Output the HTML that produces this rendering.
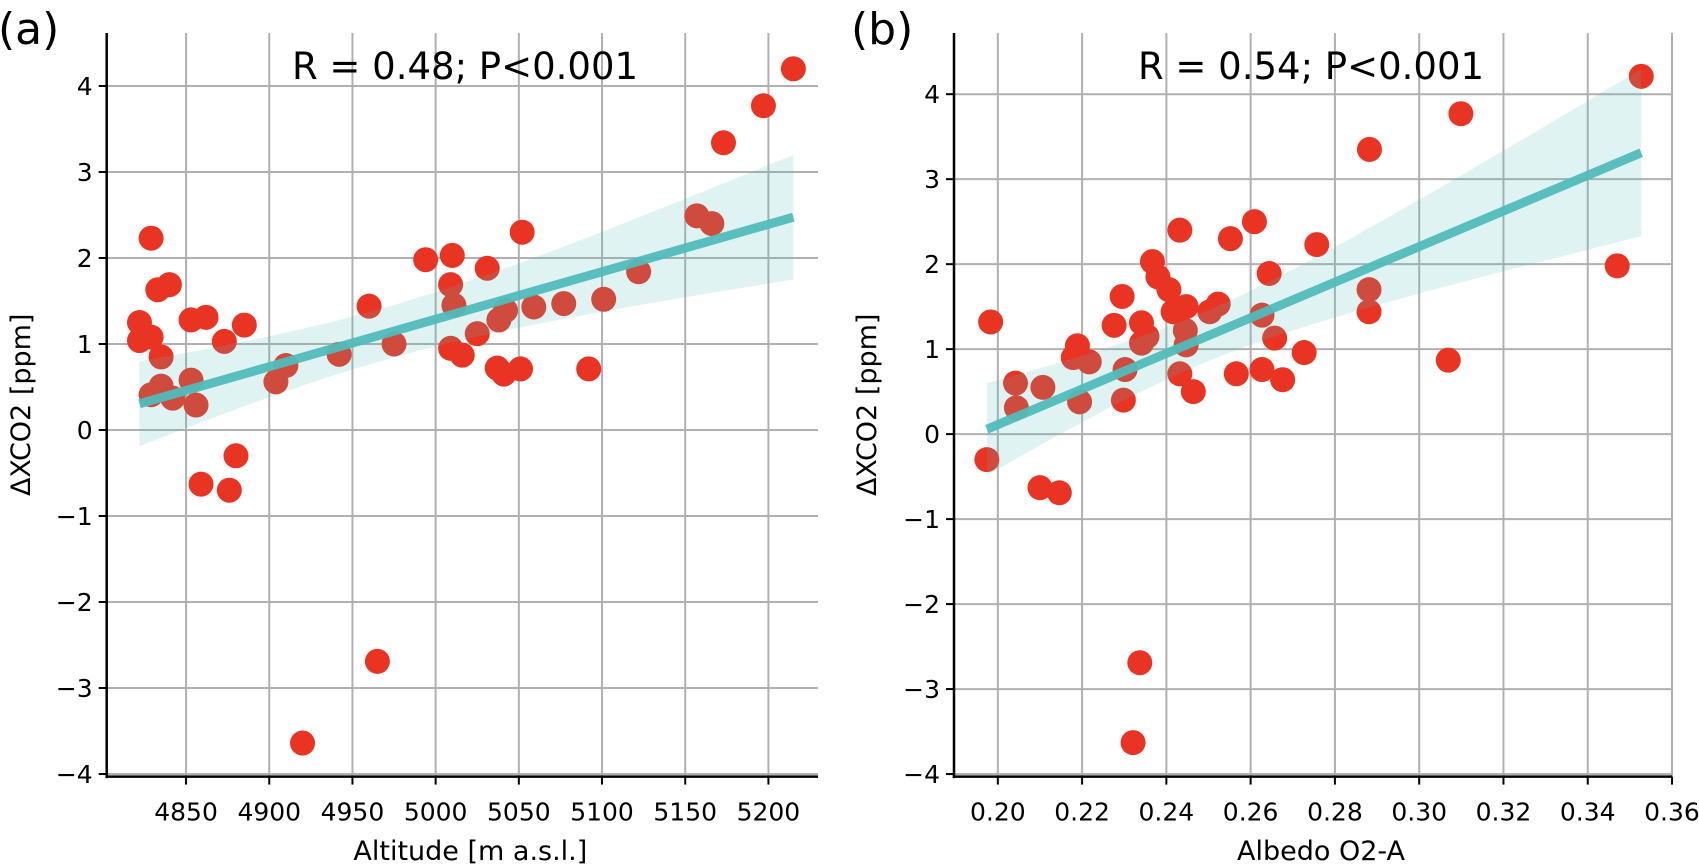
<!DOCTYPE html>
<html><head><meta charset="utf-8"><style>
html,body{margin:0;padding:0;background:#fff;}
svg{display:block;font-family:"DejaVu Sans","Liberation Sans",sans-serif;}
</style></head><body>
<svg id="chart" width="1699" height="866" viewBox="0 0 1699 866" xmlns="http://www.w3.org/2000/svg"></svg>
<script>
// Panel (a) data
const altitudeX = [5215,5197,5173,5157,5166,5122,5052,5101,5077,5059,5042,5038,5025,5031,5010,4994,5009,5011,5009,5016,5037,5041,5051,5092,4975,4960,4942,4910,4904,4885,4873,4862,4853,4853,4856,4842,4835,4829,4835,4829,4822,4822,4833,4840,4829,4880,4859,4876,4965,4920];
const altitudeY = [4.2,3.77,3.34,2.49,2.40,1.84,2.30,1.52,1.47,1.43,1.39,1.28,1.12,1.88,2.03,1.98,1.69,1.45,0.95,0.87,0.72,0.65,0.71,0.71,1.0,1.44,0.88,0.75,0.56,1.22,1.03,1.31,1.28,0.58,0.29,0.37,0.51,0.41,0.85,1.08,1.04,1.25,1.63,1.69,2.23,-0.30,-0.63,-0.70,-2.69,-3.64];
const altitudeTicks = [4850,4900,4950,5000,5050,5100,5150,5200];
// Panel (b) data
const albedoX = [0.3527,0.3099,0.2882,0.347,0.3069,0.2881,0.2881,0.2757,0.2609,0.2552,0.2432,0.2367,0.238,0.2406,0.2644,0.2627,0.2657,0.2727,0.2627,0.2676,0.2566,0.2523,0.2503,0.2447,0.2416,0.2445,0.2447,0.2432,0.2464,0.2341,0.2354,0.2341,0.2295,0.2276,0.2302,0.2298,0.2189,0.2179,0.2217,0.2194,0.2107,0.2042,0.2044,0.1983,0.1974,0.2100,0.2146,0.2337,0.2321];
const albedoY = [4.21,3.77,3.35,1.98,0.87,1.70,1.44,2.23,2.50,2.30,2.40,2.03,1.85,1.70,1.89,1.40,1.13,0.96,0.76,0.64,0.71,1.53,1.44,1.50,1.44,1.22,1.05,0.71,0.50,1.31,1.15,1.07,1.62,1.28,0.76,0.40,1.04,0.90,0.85,0.38,0.55,0.60,0.31,1.32,-0.30,-0.63,-0.69,-2.69,-3.63];
const albedoTicks = [0.20,0.22,0.24,0.26,0.28,0.30,0.32,0.34,0.36];
const yTicks = [-4,-3,-2,-1,0,1,2,3,4];

const NS='http://www.w3.org/2000/svg';
const svg=document.getElementById('chart');
function mk(tag,attrs,parent){const e=document.createElementNS(NS,tag);for(const k in attrs)e.setAttribute(k,attrs[k]);(parent||svg).appendChild(e);return e;}

function panel(cfg){
  const g=mk('g',{});
  
  
  const sx=v=>cfg.px0+(v-cfg.x0)/(cfg.x1-cfg.x0)*(cfg.px1-cfg.px0);
  const sy=v=>cfg.py0+(v-cfg.y0)/(cfg.y1-cfg.y0)*(cfg.py1-cfg.py0);
  cfg.xt.forEach(t=>{const l=mk('line',{x1:sx(t),x2:sx(t),y1:cfg.py1,y2:cfg.py0,stroke:'#b0b0b0','stroke-width':2},g);
    });
  yTicks.forEach(t=>{const l=mk('line',{x1:cfg.px0,x2:cfg.px1,y1:sy(t),y2:sy(t),stroke:'#b0b0b0','stroke-width':2},g);
    });
  cfg.xs.forEach((x,i)=>{const c=mk('circle',{cx:sx(x),cy:sy(cfg.ys[i]),r:12.5,fill:'#e93323'},g);
    });
  const n=cfg.xs.length;let mx=0,my=0;cfg.xs.forEach((x,i)=>{mx+=x;my+=cfg.ys[i];});mx/=n;my/=n;
  let sxx=0,sxy=0;cfg.xs.forEach((x,i)=>{sxx+=(x-mx)**2;sxy+=(x-mx)*(cfg.ys[i]-my);});
  const b=sxy/sxx,a=my-b*mx;let sse=0;cfg.xs.forEach((x,i)=>{sse+=(cfg.ys[i]-a-b*x)**2;});
  const s=Math.sqrt(sse/(n-2));
  const xmin=Math.min(...cfg.xs),xmax=Math.max(...cfg.xs);
  const up=[],lo=[];
  for(let k=0;k<=40;k++){const x=xmin+(xmax-xmin)*k/40;const yh=a+b*x;const se=1.9*s*Math.sqrt(1/n+(x-mx)**2/sxx);
    up.push(sx(x)+','+sy(yh+se));lo.unshift(sx(x)+','+sy(yh-se));}
  const band=mk('polygon',{points:up.concat(lo).join(' '),fill:'rgba(85,188,189,0.18)'},g);
  
  const ln=mk('line',{x1:sx(xmin),y1:sy(a+b*xmin),x2:sx(xmax),y2:sy(a+b*xmax),stroke:'rgba(80,186,187,0.95)','stroke-width':9},g);
  
  const sl=mk('line',{x1:cfg.px0,x2:cfg.px0,y1:cfg.py1,y2:cfg.py0+1.5,stroke:'#000','stroke-width':2.5},g);
  
  const sb=mk('line',{x1:cfg.px0-1.2,x2:cfg.px1,y1:cfg.py0,y2:cfg.py0,stroke:'#000','stroke-width':2.5},g);
  
  cfg.xt.forEach((t,i)=>{mk('line',{x1:sx(t),x2:sx(t),y1:cfg.py0,y2:cfg.py0+8,stroke:'#000','stroke-width':2},g);
    const tx=mk('text',{x:sx(t),y:cfg.py0+44,'text-anchor':'middle','font-size':25,fill:'#000'},g);tx.textContent=cfg.xlab[i];
    });
  yTicks.forEach(t=>{mk('line',{x1:cfg.px0-8,x2:cfg.px0,y1:sy(t),y2:sy(t),stroke:'#000','stroke-width':2},g);
    const tx=mk('text',{x:cfg.px0-14,y:sy(t)+9,'text-anchor':'end','font-size':25,fill:'#000'},g);tx.textContent=(t<0?'\u2212'+(-t):t);
    });
  const xl=mk('text',{x:(cfg.px0+cfg.px1)/2+8,y:860,'text-anchor':'middle','font-size':27,fill:'#000'},g);xl.textContent=cfg.xlabel;
  
  const yl=mk('text',{x:0,y:0,'text-anchor':'middle','font-size':27,fill:'#000',transform:`translate(${cfg.ylx},${(cfg.py0+cfg.py1)/2}) rotate(-90)`},g);yl.textContent='\u0394XCO2 [ppm]';
  
  const ti=mk('text',{x:cfg.tx,y:79,'text-anchor':'middle','font-size':37,fill:'#000'},g);ti.textContent=cfg.title;
  
  const pl=mk('text',{x:cfg.plx,y:44,'font-size':44,fill:'#000'},g);pl.textContent=cfg.label;
  
}
panel({id:'altitude',xs:altitudeX,ys:altitudeY,xt:altitudeTicks,xlab:altitudeTicks.map(String),
  x0:4802.3,x1:5229.8,px0:106.7,px1:818,y0:-4.03,y1:4.616,py0:776.6,py1:33,
  xlabel:'Altitude [m a.s.l.]',ylx:30,tx:465,title:'R = 0.48; P<0.001',plx:-2,label:'(a)'});
panel({id:'albedo',xs:albedoX,ys:albedoY,xt:albedoTicks,xlab:albedoTicks.map(v=>v.toFixed(2)),
  x0:0.1896,x1:0.36,px0:954,px1:1672,y0:-4.03,y1:4.72,py0:776.6,py1:33,
  xlabel:'Albedo O2-A',ylx:876,tx:1311,title:'R = 0.54; P<0.001',plx:851,label:'(b)'});
</script>
</body></html>
